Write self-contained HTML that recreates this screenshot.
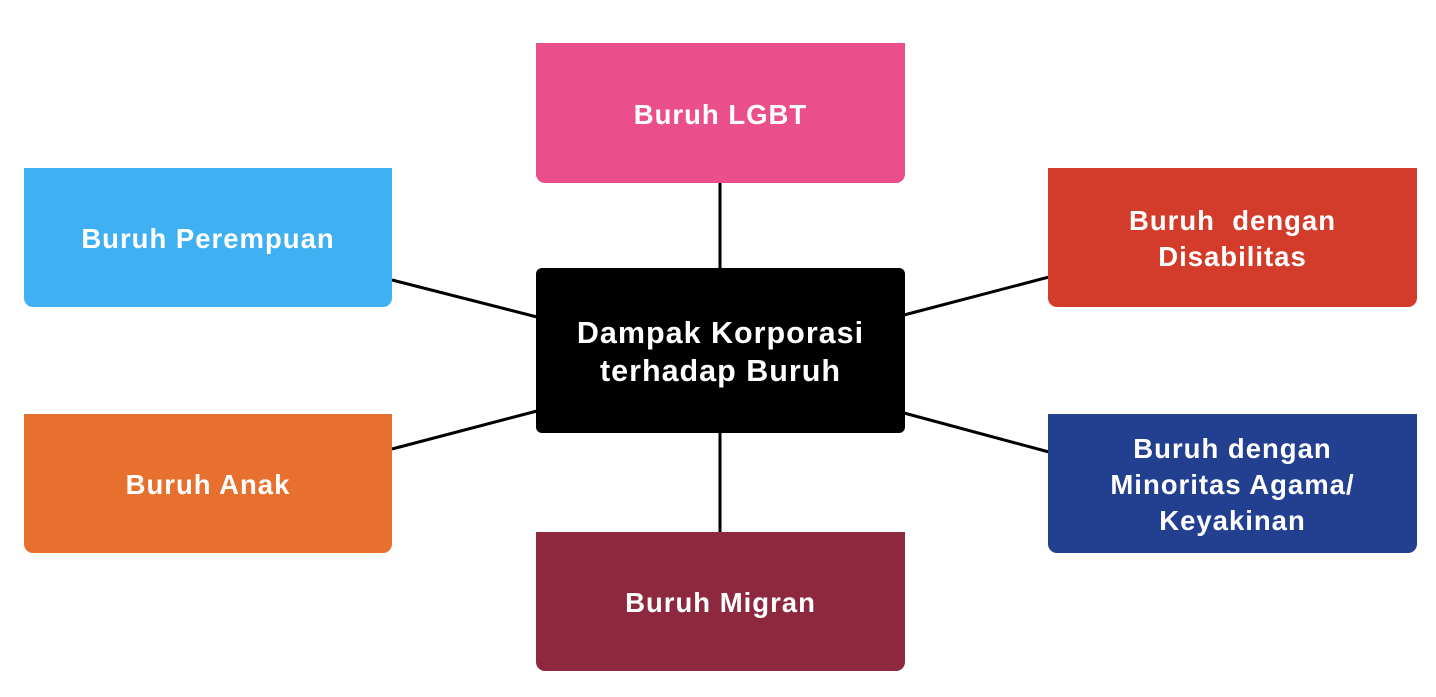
<!DOCTYPE html>
<html><head><style>
body{margin:0;width:1436px;height:697px;background:#fff;position:relative;overflow:hidden;font-family:"Liberation Sans",sans-serif}
.b{position:absolute;display:flex;align-items:center;justify-content:center;text-align:center;color:#fff;font-weight:bold;font-size:27.5px;line-height:36px;letter-spacing:1px;border-radius:0 0 9px 9px;box-sizing:border-box;padding-top:3px}
svg{position:absolute;left:0;top:0}
</style></head><body>
<svg width="1436" height="697"><g stroke="#000" stroke-width="3">
<line x1="720" y1="183" x2="720" y2="270"/>
<line x1="720" y1="430" x2="720" y2="533"/>
<line x1="392" y1="280" x2="537" y2="317"/>
<line x1="392" y1="449" x2="537" y2="411"/>
<line x1="904" y1="315" x2="1049" y2="277"/>
<line x1="904" y1="413" x2="1049" y2="452"/>
</g></svg>
<div class="b" style="left:536px;top:43px;width:369px;height:140px;background:#eb4f8b">Buruh LGBT</div>
<div class="b" style="left:24px;top:168px;width:368px;height:139px;background:#3fb0f1">Buruh Perempuan</div>
<div class="b" style="left:1048px;top:168px;width:369px;height:139px;background:#d33c2b">Buruh&nbsp; dengan<br>Disabilitas</div>
<div class="b" style="left:536px;top:268px;width:369px;height:165px;background:#000;border-radius:6px;font-size:30.5px;line-height:38px">Dampak Korporasi<br>terhadap Buruh</div>
<div class="b" style="left:24px;top:414px;width:368px;height:139px;background:#e8702e">Buruh Anak</div>
<div class="b" style="left:1048px;top:414px;width:369px;height:139px;background:#233f8f">Buruh dengan<br>Minoritas Agama/<br>Keyakinan</div>
<div class="b" style="left:536px;top:532px;width:369px;height:139px;background:#8d283f">Buruh Migran</div>
</body></html>
